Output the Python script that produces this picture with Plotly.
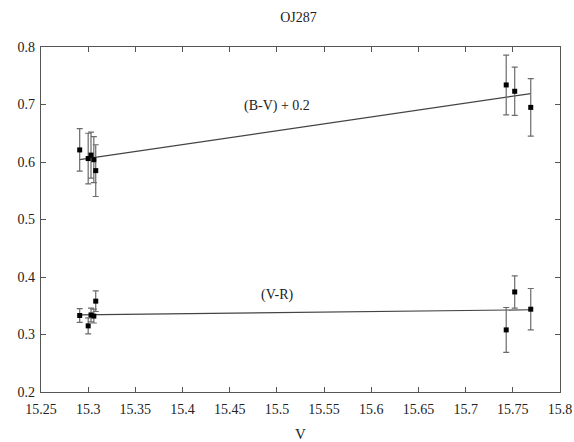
import plotly.graph_objects as go

# V magnitude of each observation
v_mag = [15.291, 15.300, 15.303, 15.306, 15.308, 15.743, 15.752, 15.769]

# (B-V) + 0.2 colour index and its 1-sigma error
bv = [0.621, 0.606, 0.612, 0.604, 0.585, 0.734, 0.723, 0.695]
bv_err = [0.037, 0.044, 0.040, 0.040, 0.045, 0.052, 0.042, 0.050]

# (V-R) colour index and its 1-sigma error
vr = [0.333, 0.315, 0.334, 0.332, 0.358, 0.308, 0.374, 0.344]
vr_err = [0.012, 0.014, 0.012, 0.012, 0.018, 0.039, 0.028, 0.036]

# linear fits (end points)
fit_v = [15.291, 15.769]
fit_bv = [0.604, 0.719]
fit_vr = [0.334, 0.343]

x_ticks = [15.25, 15.3, 15.35, 15.4, 15.45, 15.5, 15.55, 15.6, 15.65, 15.7, 15.75, 15.8]
x_tick_text = ["15.25", "15.3", "15.35", "15.4", "15.45", "15.5", "15.55", "15.6",
               "15.65", "15.7", "15.75", "15.8"]
y_ticks = [0.2, 0.3, 0.4, 0.5, 0.6, 0.7, 0.8]

FONT = "Times New Roman, Liberation Serif, Tinos, DejaVu Serif, serif"
ERR_COLOR = "#6b6b6b"
LINE_COLOR = "#444444"
TEXT_COLOR = "#222222"

fig = go.Figure()

for fit_y in (fit_bv, fit_vr):
    fig.add_trace(go.Scatter(
        x=fit_v, y=fit_y, mode="lines",
        line=dict(color=LINE_COLOR, width=1.2),
        showlegend=False, hoverinfo="skip"))

for vals, errs in ((bv, bv_err), (vr, vr_err)):
    fig.add_trace(go.Scatter(
        x=v_mag, y=vals, mode="markers",
        marker=dict(symbol="square", size=5, color="black"),
        error_y=dict(type="data", array=errs, visible=True,
                     color=ERR_COLOR, thickness=1.2, width=3),
        showlegend=False))

fig.add_annotation(x=15.5, y=0.697, text="(B-V) + 0.2", showarrow=False,
                   font=dict(family=FONT, size=14, color=TEXT_COLOR))
fig.add_annotation(x=15.5, y=0.368, text="(V-R)", showarrow=False,
                   font=dict(family=FONT, size=14, color=TEXT_COLOR))

axis_common = dict(
    showline=True, linecolor="#555", linewidth=1.2, mirror="ticks",
    ticks="inside", ticklen=5, tickcolor="#555", showgrid=False, zeroline=False,
    automargin=False,
    tickfont=dict(family=FONT, size=14, color=TEXT_COLOR),
)

fig.update_layout(
    width=574, height=442,
    margin=dict(l=41, r=14, t=47, b=50),
    paper_bgcolor="white", plot_bgcolor="white",
    font=dict(family=FONT),
    title=dict(text="OJ287", x=0.52, xanchor="center", y=0.962, yanchor="middle",
               font=dict(family=FONT, size=14, color=TEXT_COLOR)),
    xaxis=dict(range=[15.25, 15.8], tickvals=x_ticks, ticktext=x_tick_text,
               ticklabelstandoff=4,
               title=dict(text="V", font=dict(family=FONT, size=15, color=TEXT_COLOR), standoff=12),
               **axis_common),
    yaxis=dict(range=[0.2, 0.8], tickvals=y_ticks, tickformat=".1f",
               ticklabelstandoff=2,
               **axis_common),
)

fig.write_html("out.html")
